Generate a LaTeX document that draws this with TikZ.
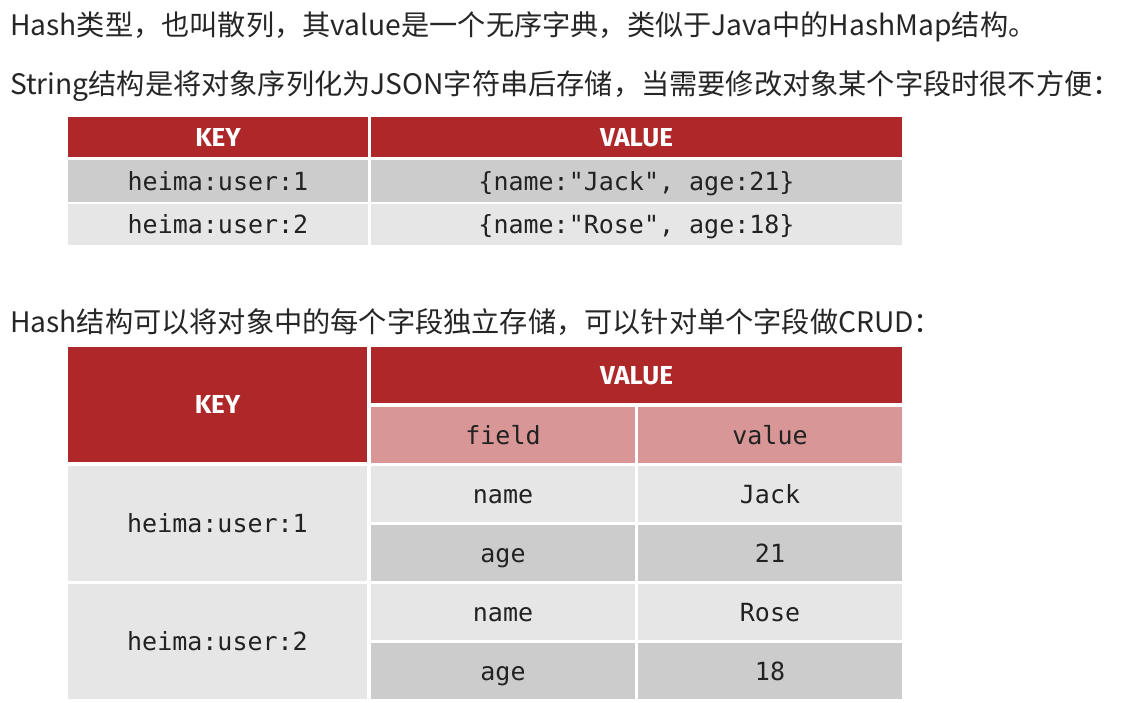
\documentclass[tikz,border=0pt]{standalone}
\usepackage{fontspec}
\setmainfont{Noto Sans CJK SC}
\setmonofont{DejaVu Sans Mono}
\newfontfamily\headfont{Fira Sans}

\definecolor{hdred}{RGB}{174,39,41}
\definecolor{subpink}{RGB}{216,150,150}
\definecolor{rowlight}{RGB}{230,230,230}
\definecolor{rowdark}{RGB}{204,204,204}
\definecolor{celltext}{RGB}{34,34,34}

\begin{document}
\begin{tikzpicture}[x=1pt,y=-1pt,
    txt/.style={inner sep=0pt, anchor=base west, text=black!85,
        font=\fontsize{28.2}{30}\selectfont},
    cell/.style={inner sep=0pt, text=celltext, text height=20pt, text depth=2pt,
        font=\ttfamily\fontsize{25}{25}\selectfont},
    hdcell/.style={cell, fill=hdred, text=white,
        font=\headfont\bfseries\fontsize{26}{26}\selectfont},
    subcell/.style={cell, fill=subpink},
    lightcell/.style={cell, fill=rowlight},
    darkcell/.style={cell, fill=rowdark}]
    \useasboundingbox[fill=white] (0,0) rectangle (1127,702);

    % intro text
    \node [txt] (t1) at (10,35) {Hash类型，也叫散列，其value是一个无序字典，类似于Java中的HashMap结构。};
    \node [txt] (t2) at (10,94) {String结构是将对象序列化为JSON字符串后存储，当需要修改对象某个字段时很不方便：};

    % string table
    \node [hdcell, minimum width=300pt, minimum height=40pt] (sk) at (218,137) {KEY};
    \node [hdcell, minimum width=531pt, minimum height=40pt] (sv) at (636.5,137) {VALUE};
    \node [darkcell, minimum width=300pt, minimum height=42pt] (sk1) at (218,181) {heima:user:1};
    \node [darkcell, minimum width=531pt, minimum height=42pt] (sv1) at (636.5,181) {\{name:"Jack", age:21\}};
    \node [lightcell, minimum width=300pt, minimum height=41pt] (sk2) at (218,224.5) {heima:user:2};
    \node [lightcell, minimum width=531pt, minimum height=41pt] (sv2) at (636.5,224.5) {\{name:"Rose", age:18\}};

    \node [txt] (t3) at (10,332) {Hash结构可以将对象中的每个字段独立存储，可以针对单个字段做CRUD：};

    % hash table
    \node [hdcell, minimum width=299pt, minimum height=115pt] (hk) at (217.5,404.5) {KEY};
    \node [hdcell, minimum width=531pt, minimum height=56pt] (hv) at (636.5,375) {VALUE};
    \node [subcell, minimum width=264pt, minimum height=56pt] (hf) at (503,435) {field};
    \node [subcell, minimum width=264pt, minimum height=56pt] (hval) at (770,435) {value};

    \node [lightcell, minimum width=299pt, minimum height=115pt] (hk1) at (217.5,523.5) {heima:user:1};
    \node [lightcell, minimum width=264pt, minimum height=56pt] (f1) at (503,494) {name};
    \node [lightcell, minimum width=264pt, minimum height=56pt] (v1) at (770,494) {Jack};
    \node [darkcell, minimum width=264pt, minimum height=56pt] (f2) at (503,553) {age};
    \node [darkcell, minimum width=264pt, minimum height=56pt] (v2) at (770,553) {21};

    \node [lightcell, minimum width=299pt, minimum height=115pt] (hk2) at (217.5,641.5) {heima:user:2};
    \node [lightcell, minimum width=264pt, minimum height=56pt] (f3) at (503,612) {name};
    \node [lightcell, minimum width=264pt, minimum height=56pt] (v3) at (770,612) {Rose};
    \node [darkcell, minimum width=264pt, minimum height=56pt] (f4) at (503,671) {age};
    \node [darkcell, minimum width=264pt, minimum height=56pt] (v4) at (770,671) {18};
\end{tikzpicture}
\end{document}
